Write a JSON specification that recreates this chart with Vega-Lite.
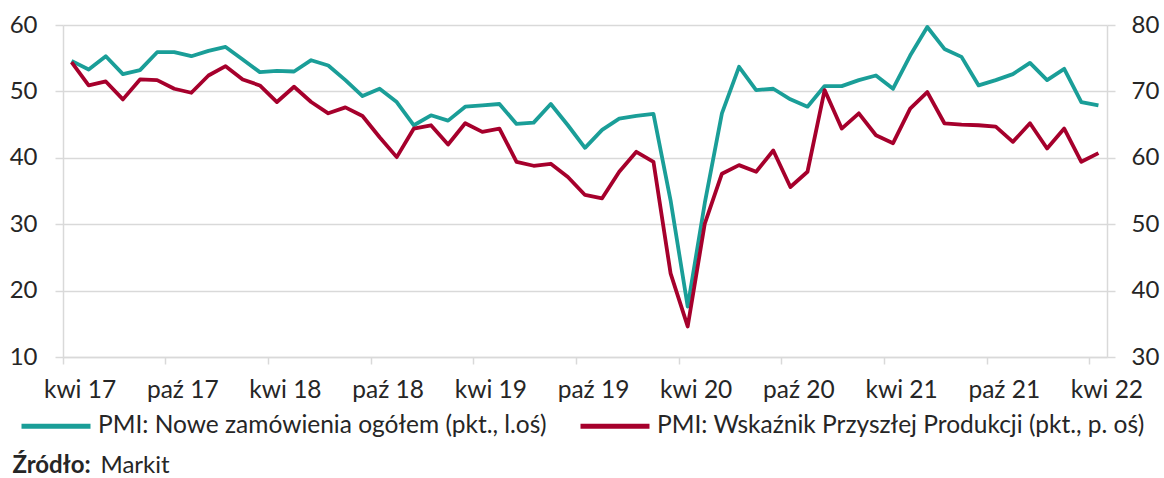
{
  "$schema": "https://vega.github.io/schema/vega-lite/v6.json",
  "width": 1044,
  "height": 332,
  "autosize": "none",
  "padding": {"left": 63, "top": 25, "right": 57, "bottom": 121},
  "background": "white",
  "config": {
    "view": {"stroke": null},
    "font": "Lato",
    "axis": {"labelFont": "Lato", "titleFont": "Lato", "labelColor": "#262626", "titleColor": "#262626"},
    "legend": {"labelFont": "Lato"}
  },
  "data": {
    "values": [
      {"m": "2017-04", "a": 54.6, "b": 74.4},
      {"m": "2017-05", "a": 53.3, "b": 70.9},
      {"m": "2017-06", "a": 55.3, "b": 71.5},
      {"m": "2017-07", "a": 52.6, "b": 68.8},
      {"m": "2017-08", "a": 53.2, "b": 71.8},
      {"m": "2017-09", "a": 55.9, "b": 71.7},
      {"m": "2017-10", "a": 55.9, "b": 70.4},
      {"m": "2017-11", "a": 55.3, "b": 69.8},
      {"m": "2017-12", "a": 56.1, "b": 72.4},
      {"m": "2018-01", "a": 56.7, "b": 73.8},
      {"m": "2018-02", "a": 54.8, "b": 71.8},
      {"m": "2018-03", "a": 52.9, "b": 70.9},
      {"m": "2018-04", "a": 53.1, "b": 68.4},
      {"m": "2018-05", "a": 53.0, "b": 70.7},
      {"m": "2018-06", "a": 54.7, "b": 68.4},
      {"m": "2018-07", "a": 53.9, "b": 66.7},
      {"m": "2018-08", "a": 51.7, "b": 67.6},
      {"m": "2018-09", "a": 49.3, "b": 66.3},
      {"m": "2018-10", "a": 50.4, "b": 63.1},
      {"m": "2018-11", "a": 48.4, "b": 60.1},
      {"m": "2018-12", "a": 44.9, "b": 64.4},
      {"m": "2019-01", "a": 46.4, "b": 64.9},
      {"m": "2019-02", "a": 45.6, "b": 62.0},
      {"m": "2019-03", "a": 47.7, "b": 65.2},
      {"m": "2019-04", "a": 47.9, "b": 63.9},
      {"m": "2019-05", "a": 48.1, "b": 64.4},
      {"m": "2019-06", "a": 45.1, "b": 59.4},
      {"m": "2019-07", "a": 45.3, "b": 58.8},
      {"m": "2019-08", "a": 48.1, "b": 59.1},
      {"m": "2019-09", "a": 44.9, "b": 57.1},
      {"m": "2019-10", "a": 41.5, "b": 54.4},
      {"m": "2019-11", "a": 44.2, "b": 53.9},
      {"m": "2019-12", "a": 45.9, "b": 57.9},
      {"m": "2020-01", "a": 46.3, "b": 60.9},
      {"m": "2020-02", "a": 46.6, "b": 59.4},
      {"m": "2020-03", "a": 33.6, "b": 42.6},
      {"m": "2020-04", "a": 17.6, "b": 34.6},
      {"m": "2020-05", "a": 33.2, "b": 50.1},
      {"m": "2020-06", "a": 46.7, "b": 57.6},
      {"m": "2020-07", "a": 53.7, "b": 58.9},
      {"m": "2020-08", "a": 50.2, "b": 57.9},
      {"m": "2020-09", "a": 50.4, "b": 61.1},
      {"m": "2020-10", "a": 48.8, "b": 55.6},
      {"m": "2020-11", "a": 47.7, "b": 57.9},
      {"m": "2020-12", "a": 50.8, "b": 70.2},
      {"m": "2021-01", "a": 50.8, "b": 64.4},
      {"m": "2021-02", "a": 51.7, "b": 66.7},
      {"m": "2021-03", "a": 52.4, "b": 63.4},
      {"m": "2021-04", "a": 50.4, "b": 62.2},
      {"m": "2021-05", "a": 55.4, "b": 67.4},
      {"m": "2021-06", "a": 59.7, "b": 69.9},
      {"m": "2021-07", "a": 56.4, "b": 65.2},
      {"m": "2021-08", "a": 55.2, "b": 65.0},
      {"m": "2021-09", "a": 50.9, "b": 64.9},
      {"m": "2021-10", "a": 51.7, "b": 64.7},
      {"m": "2021-11", "a": 52.6, "b": 62.4},
      {"m": "2021-12", "a": 54.3, "b": 65.2},
      {"m": "2022-01", "a": 51.7, "b": 61.4},
      {"m": "2022-02", "a": 53.4, "b": 64.4},
      {"m": "2022-03", "a": 48.4, "b": 59.4},
      {"m": "2022-04", "a": 47.9, "b": 60.7}
    ]
  },
  "layer": [
    {
      "mark": {"type": "line", "strokeWidth": 3.8, "strokeJoin": "round"},
      "encoding": {
        "x": {
          "field": "m",
          "type": "ordinal",
          "scale": {"type": "band", "paddingInner": 0, "paddingOuter": 0},
          "axis": {
            "values": ["2017-04", "2017-10", "2018-04", "2018-10", "2019-04", "2019-10", "2020-04", "2020-10", "2021-04", "2021-10", "2022-04"],
            "labelExpr": "(slice(datum.value, 5, 7) == '04' ? 'kwi' : 'paź') + ' ' + slice(datum.value, 2, 4)",
            "bandPosition": 0,
            "labelOffset": 8.5,
            "labelAngle": 0,
            "labelFontSize": 24.5,
            "labelPadding": 14,
            "tickSize": 7,
            "tickColor": "#D9D9D9",
            "tickWidth": 1.5,
            "domainColor": "#D9D9D9",
            "domainWidth": 1.5,
            "grid": false,
            "title": "Źródło:",
            "titleFontWeight": "bold",
            "titleFontSize": 24,
            "titleAnchor": "start",
            "titleAlign": "left",
            "titleBaseline": "alphabetic",
            "titleX": -51,
            "titleY": 115
          }
        },
        "y": {
          "field": "a",
          "type": "quantitative",
          "scale": {"domain": [10, 60], "nice": false, "zero": false},
          "axis": {
            "values": [10, 20, 30, 40, 50, 60],
            "grid": true,
            "gridColor": "#D9D9D9",
            "gridWidth": 1.5,
            "domainColor": "#D9D9D9",
            "domainWidth": 1.5,
            "tickColor": "#D9D9D9",
            "tickWidth": 1.5,
            "tickSize": 8,
            "labelFontSize": 24,
            "labelPadding": 18,
            "title": "Markit",
            "titleAngle": 0,
            "titleFontWeight": "normal",
            "titleFontSize": 24,
            "titleAnchor": "start",
            "titleAlign": "left",
            "titleBaseline": "alphabetic",
            "titleX": 37,
            "titleY": 447
          }
        },
        "color": {
          "datum": "PMI: Nowe zamówienia ogółem (pkt., l.oś)",
          "type": "nominal",
          "scale": {
            "domain": ["PMI: Nowe zamówienia ogółem (pkt., l.oś)", "PMI: Wskaźnik Przyszłej Produkcji (pkt., p. oś)"],
            "range": ["#1A9E98", "#A6002C"]
          },
          "legend": {
            "orient": "none",
            "legendX": -44,
            "legendY": 364,
            "direction": "horizontal",
            "title": null,
            "symbolType": "stroke",
            "symbolSize": 4761,
            "symbolStrokeWidth": 5,
            "labelFontSize": 24.5,
            "labelColor": "#262626",
            "labelLimit": 800,
            "labelOffset": 5,
            "columnPadding": 23
          }
        }
      }
    },
    {
      "mark": {"type": "line", "strokeWidth": 3.8, "strokeJoin": "round"},
      "encoding": {
        "x": {"field": "m", "type": "ordinal"},
        "y": {
          "field": "b",
          "type": "quantitative",
          "scale": {"domain": [30, 80], "nice": false, "zero": false},
          "axis": {
            "orient": "right",
            "values": [30, 40, 50, 60, 70, 80],
            "grid": false,
            "domainColor": "#D9D9D9",
            "domainWidth": 1.5,
            "tickColor": "#D9D9D9",
            "tickWidth": 1.5,
            "tickSize": 8,
            "labelFontSize": 24,
            "labelPadding": 16,
            "title": null
          }
        },
        "color": {"datum": "PMI: Wskaźnik Przyszłej Produkcji (pkt., p. oś)", "type": "nominal"}
      }
    }
  ],
  "resolve": {"scale": {"y": "independent"}}
}
